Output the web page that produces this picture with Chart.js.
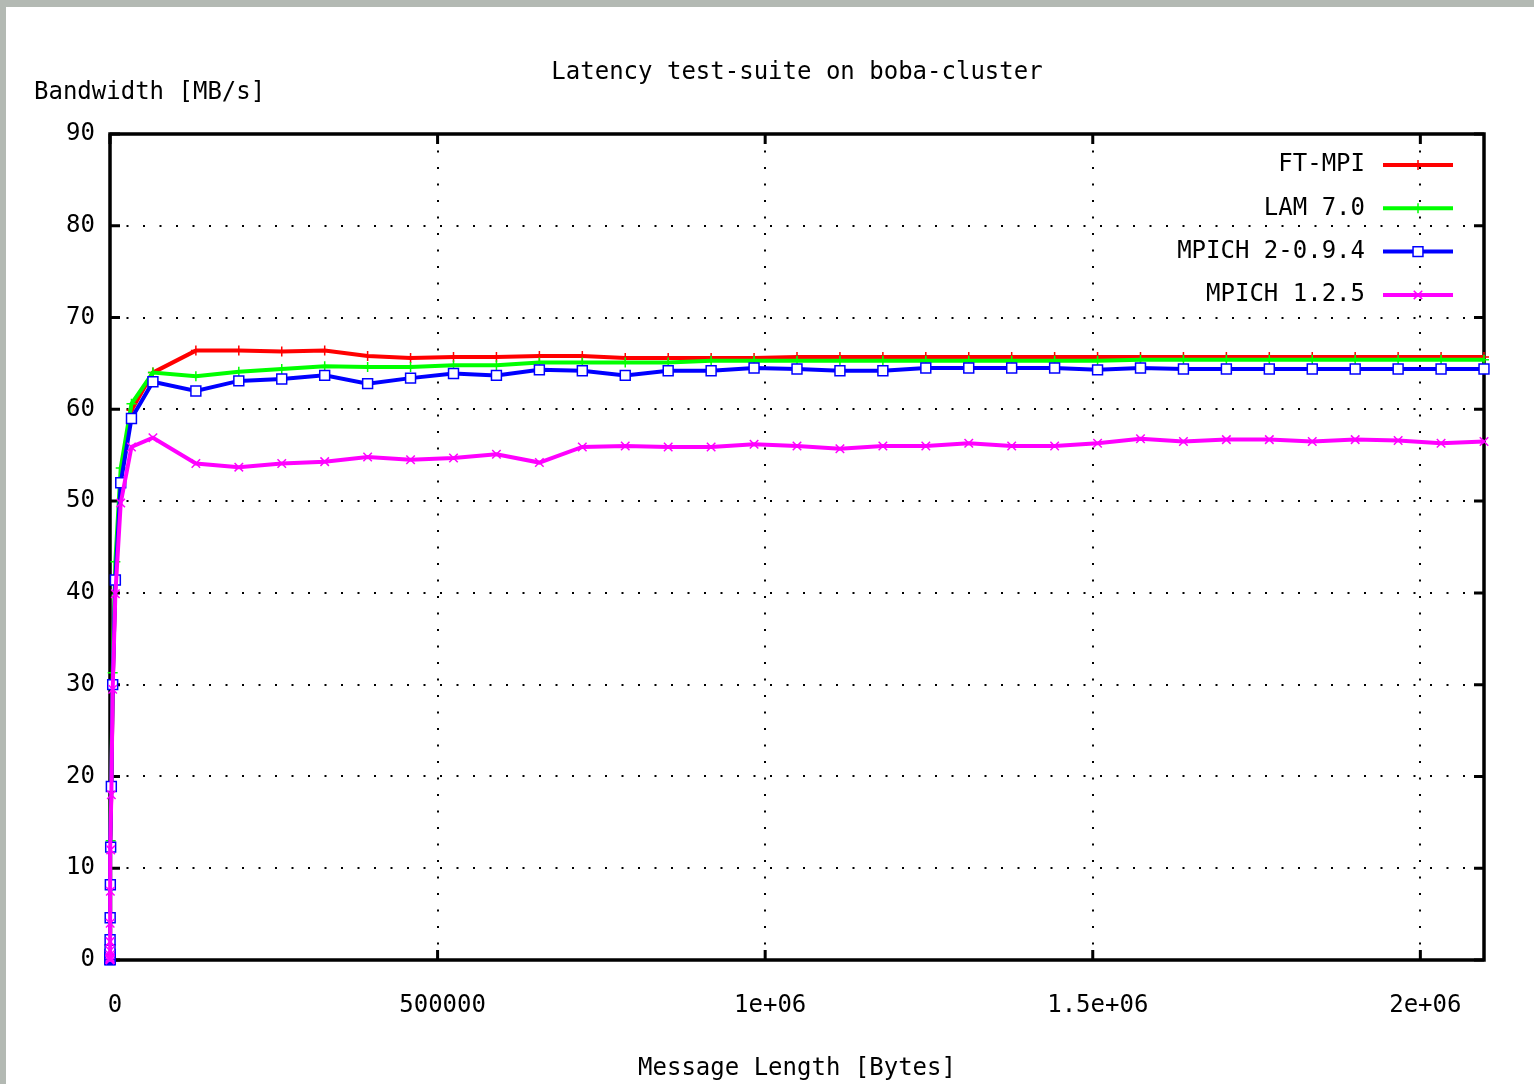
<!DOCTYPE html>
<html>
<head>
<meta charset="utf-8">
<script src="https://cdn.jsdelivr.net/npm/chart.js@4.4.0/dist/chart.umd.min.js"></script>
<style>
html,body{margin:0;padding:0;background:#b3b9b3;width:1534px;height:1084px;overflow:hidden}
#wrap{position:absolute;left:6px;top:7px;width:1528px;height:1077px;background:#fff}
canvas{display:block}
</style>
</head>
<body>
<div id="wrap"><canvas id="c" width="1528" height="1077"></canvas></div>
<script>
// ---- data ----
const chartTitle = 'Latency test-suite on boba-cluster';
const yAxisLabel = 'Bandwidth [MB/s]';
const xAxisLabel = 'Message Length [Bytes]';
const seriesLabels = ['FT-MPI', 'LAM 7.0', 'MPICH 2-0.9.4', 'MPICH 1.2.5'];

const messageSizes = [
  1, 2, 4, 8, 16, 32, 64, 128, 256, 512, 1024, 2048, 4096, 8192, 16384, 32768,
  65536, 131072, 196608, 262144, 327680, 393216, 458752, 524288, 589824, 655360,
  720896, 786432, 851968, 917504, 983040, 1048576, 1114112, 1179648, 1245184, 1310720,
  1376256, 1441792, 1507328, 1572864, 1638400, 1703936, 1769472, 1835008, 1900544,
  1966080, 2031616, 2097152
];

const ftmpi = [
  0.02, 0.04, 0.08, 0.16, 0.3, 0.6, 1.2, 2.3, 4.4, 8.0, 12.2, 18.6, 30.0, 41.5, 52.5, 59.9,
  64.0, 66.4, 66.4, 66.3, 66.4, 65.8, 65.6, 65.7, 65.7, 65.8, 65.8, 65.6, 65.6, 65.6, 65.6, 65.7,
  65.7, 65.7, 65.7, 65.7, 65.7, 65.7, 65.7, 65.7, 65.7, 65.7, 65.7, 65.7, 65.7, 65.7, 65.7, 65.7
];
const lam70 = [
  0.02, 0.04, 0.09, 0.17, 0.32, 0.65, 1.3, 2.5, 4.7, 8.6, 13.0, 19.4, 31.3, 43.4, 53.6, 60.6,
  64.0, 63.6, 64.1, 64.4, 64.7, 64.6, 64.6, 64.8, 64.8, 65.1, 65.1, 65.1, 65.1, 65.3, 65.3, 65.3,
  65.3, 65.3, 65.3, 65.3, 65.3, 65.3, 65.3, 65.4, 65.4, 65.4, 65.4, 65.4, 65.4, 65.4, 65.4, 65.4
];
const mpich2 = [
  0.02, 0.04, 0.08, 0.15, 0.3, 0.6, 1.1, 2.2, 4.6, 8.2, 12.3, 18.9, 30.0, 41.4, 52.0, 59.0,
  63.0, 62.0, 63.1, 63.3, 63.7, 62.8, 63.4, 63.9, 63.7, 64.3, 64.2, 63.7, 64.2, 64.2, 64.5, 64.4,
  64.2, 64.2, 64.5, 64.5, 64.5, 64.5, 64.3, 64.5, 64.4, 64.4, 64.4, 64.4, 64.4, 64.4, 64.4, 64.4
];
const mpich1 = [
  0.02, 0.03, 0.07, 0.14, 0.28, 0.55, 1.0, 2.0, 4.0, 7.5, 12.0, 18.0, 29.5, 39.9, 49.8, 55.9,
  56.9, 54.1, 53.7, 54.1, 54.3, 54.8, 54.5, 54.7, 55.1, 54.2, 55.9, 56.0, 55.9, 55.9, 56.2, 56.0,
  55.7, 56.0, 56.0, 56.3, 56.0, 56.0, 56.3, 56.8, 56.5, 56.7, 56.7, 56.5, 56.7, 56.6, 56.3, 56.5
];

const xTickValues = [0, 500000, 1000000, 1500000, 2000000];
const xTickLabels = ['0', '500000', '1e+06', '1.5e+06', '2e+06'];

// ---- chart ----
const FONT = '"DejaVu Sans Mono", "Liberation Mono", monospace';
const seriesValues = [ftmpi, lam70, mpich2, mpich1];
const seriesColors = ['#ff0000', '#00ff00', '#0000ff', '#ff00ff'];
const seriesPoints = ['cross', 'cross', 'rect', 'crossRot'];
const seriesRadius = [5, 5, 7, 6];
const seriesFill = ['rgba(0,0,0,0)', 'rgba(0,0,0,0)', '#ffffff', 'rgba(0,0,0,0)'];

const datasets = seriesLabels.map((label, i) => ({
  label,
  data: messageSizes.map((x, j) => ({x, y: seriesValues[i][j]})),
  borderColor: seriesColors[i],
  backgroundColor: seriesColors[i],
  borderWidth: 4,
  pointStyle: seriesPoints[i],
  pointRadius: seriesRadius[i],
  pointBorderWidth: 1.5,
  pointBorderColor: seriesColors[i],
  pointBackgroundColor: seriesFill[i],
  tension: 0,
  clip: false,
  order: 3 - i
}));

const framePlugin = {
  id: 'frame',
  beforeDatasetsDraw(chart) {
    const {ctx, chartArea: a, scales: {x, y}} = chart;
    ctx.save();
    ctx.strokeStyle = '#000';
    ctx.lineWidth = 3.5;
    ctx.strokeRect(a.left, a.top, a.right - a.left, a.bottom - a.top);
    ctx.lineWidth = 3;
    ctx.beginPath();
    y.ticks.forEach(t => {
      const py = y.getPixelForValue(t.value);
      ctx.moveTo(a.left, py); ctx.lineTo(a.left + 10, py);
      ctx.moveTo(a.right, py); ctx.lineTo(a.right - 10, py);
    });
    x.ticks.forEach(t => {
      const px = x.getPixelForValue(t.value);
      ctx.moveTo(px, a.bottom); ctx.lineTo(px, a.bottom - 10);
      ctx.moveTo(px, a.top); ctx.lineTo(px, a.top + 10);
    });
    ctx.stroke();
    ctx.restore();
  },
  afterDraw(chart) {
    const {ctx, chartArea: a} = chart;
    ctx.save();
    ctx.font = '24px ' + FONT;
    ctx.fillStyle = '#000';
    ctx.textBaseline = 'middle';
    // title
    ctx.textAlign = 'center';
    ctx.fillText(chartTitle, (a.left + a.right) / 2, 66);
    // y axis label
    ctx.textAlign = 'left';
    ctx.fillText(yAxisLabel, 28, 86);
    // legend
    chart.data.datasets.forEach((ds, i) => {
      const yy = a.top + 31 + i * 43.3;
      ctx.textAlign = 'right';
      ctx.fillStyle = '#000';
      ctx.fillText(ds.label, a.right - 119, yy);
      ctx.strokeStyle = ds.borderColor;
      ctx.lineWidth = 4;
      ctx.beginPath();
      ctx.moveTo(a.right - 101, yy);
      ctx.lineTo(a.right - 31, yy);
      ctx.stroke();
      ctx.lineWidth = ds.pointBorderWidth;
      ctx.fillStyle = ds.pointBackgroundColor;
      Chart.helpers.drawPoint(ctx, {pointStyle: ds.pointStyle, radius: ds.pointRadius, borderWidth: ds.pointBorderWidth, rotation: 0}, a.right - 66, yy);
    });
    ctx.restore();
  }
};

new Chart(document.getElementById('c'), {
  type: 'line',
  data: {datasets},
  options: {
    responsive: false,
    animation: false,
    devicePixelRatio: 1,
    layout: {padding: {top: 127, right: 50, left: 0, bottom: 0}},
    plugins: {legend: {display: false}, tooltip: {enabled: false}, title: {display: false}},
    scales: {
      x: {
        type: 'linear',
        min: 0,
        max: 2097152,
        afterBuildTicks(s) { s.ticks = xTickValues.map(v => ({value: v})); },
        afterFit(s) { s.height = 124; },
        grid: {color: '#000', lineWidth: 2, drawTicks: false},
        border: {display: false, dash: [2, 14.5]},
        ticks: {
          maxRotation: 0,
          autoSkip: false,
          padding: 31,
          labelOffset: 5,
          color: '#000',
          font: {family: FONT, size: 24},
          callback: v => {
            const k = xTickValues.indexOf(v);
            return k >= 0 ? xTickLabels[k] : '';
          }
        },
        title: {display: true, text: xAxisLabel, color: '#000', font: {family: FONT, size: 24}, padding: {top: 0, bottom: 1}}
      },
      y: {
        min: 0,
        max: 90,
        afterFit(s) { s.width = 104; },
        grid: {color: '#000', lineWidth: 2, drawTicks: false},
        border: {display: false, dash: [2, 14.5]},
        ticks: {stepSize: 10, padding: 15, color: '#000', font: {family: FONT, size: 24}}
      }
    }
  },
  plugins: [framePlugin]
});
</script>
</body>
</html>
